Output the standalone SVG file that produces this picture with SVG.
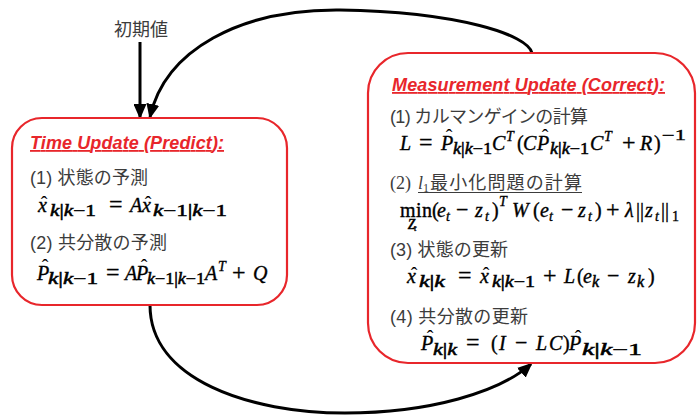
<svg xmlns="http://www.w3.org/2000/svg" width="699" height="417" viewBox="0 0 699 417">
<style>
.box{fill:#fff;stroke:#e8262b;stroke-width:2.2}
.ttl{font-family:"Liberation Sans",Arial,sans-serif;font-size:18px;font-weight:bold;font-style:italic;fill:#e8262b;text-decoration:underline}
.lbl{font-family:"Liberation Sans","Noto Sans CJK JP",sans-serif;font-size:18px;fill:#3c3c3c}
.m{font-family:"Liberation Serif","DejaVu Serif",serif;font-size:20px;font-style:italic;fill:#000;stroke:#000;stroke-width:0.35}
.u{font-style:normal}
.s{font-size:16px;stroke-width:0.5}
.t{font-size:14px}
.hat{font-family:"Liberation Serif",serif;font-size:20px;fill:#000;text-anchor:middle}
.con{fill:none;stroke:#000;stroke-width:3}
</style>
<defs>
<marker id="ah" markerUnits="userSpaceOnUse" markerWidth="15" markerHeight="13" refX="13" refY="6.5" orient="auto">
<path d="M0,0 L15,6.5 L0,13 z" fill="#000"/>
</marker>
</defs>
<rect width="699" height="417" fill="#fff"/>

<g id="connectors">
<path class="con" d="M140,42 L140,117" marker-end="url(#ah)"/>
<path class="con" d="M532,53 C528,35 460,12 340,10 C240,9 165,50 150,117" marker-end="url(#ah)"/>
<path class="con" d="M150,305 C150,380 250,413 345,413 C430,413 500,392 531,364" marker-end="url(#ah)"/>
</g>

<g id="init-value">
<text class="lbl" x="114" y="36" font-size="17" textLength="54">初期値</text>
</g>

<g id="time-update">
<rect class="box" x="12" y="118" width="275" height="187" rx="30"/>
<text class="ttl" x="30" y="149" textLength="194">Time Update (Predict):</text>
<text class="lbl" x="30" y="184" textLength="118">(1) 状態の予測</text>
<text class="m" y="212" font-size="19"><tspan x="38">x</tspan><tspan x="50" y="216" class="s" textLength="46" lengthAdjust="spacingAndGlyphs">k<tspan class="u">|</tspan>k<tspan class="u">−1</tspan></tspan><tspan x="109" y="212" class="u" font-size="24">=</tspan><tspan x="130">A</tspan><tspan x="142">x</tspan><tspan x="153" y="216" class="s" textLength="74" lengthAdjust="spacingAndGlyphs">k<tspan class="u">−1|</tspan>k<tspan class="u">−1</tspan></tspan></text>
<text class="hat" x="44" y="211">ˆ</text>
<text class="hat" x="148" y="211">ˆ</text>
<text class="lbl" x="30" y="249" textLength="137">(2) 共分散の予測</text>
<text class="m" y="280"><tspan x="37">P</tspan><tspan x="48" y="284" class="s" textLength="50" lengthAdjust="spacingAndGlyphs">k<tspan class="u">|</tspan>k<tspan class="u">−1</tspan></tspan><tspan x="106" y="280" class="u" font-size="24">=</tspan><tspan x="125">A</tspan><tspan x="136">P</tspan><tspan x="147" y="284" class="s" textLength="58" lengthAdjust="spacingAndGlyphs">k<tspan class="u">−1|</tspan>k<tspan class="u">−1</tspan></tspan><tspan x="205" y="280">A</tspan><tspan x="218" y="271" class="t">T</tspan><tspan x="232" y="280" class="u" font-size="24">+</tspan><tspan x="253">Q</tspan></text>
<text class="hat" x="45" y="274">ˆ</text>
<text class="hat" x="144" y="274">ˆ</text>
</g>

<g id="measurement-update">
<rect class="box" x="368" y="53" width="327" height="310" rx="40"/>
<text class="ttl" x="392" y="91" textLength="273">Measurement Update (Correct):</text>
<text class="lbl" x="390" y="123" textLength="198">(1) カルマンゲインの計算</text>
<text class="m" y="150"><tspan x="400">L</tspan><tspan x="419" class="u" font-size="24">=</tspan><tspan x="441">P</tspan><tspan x="453" y="154" class="s" textLength="39" lengthAdjust="spacingAndGlyphs">k<tspan class="u">|</tspan>k<tspan class="u">−1</tspan></tspan><tspan x="492" y="150">C</tspan><tspan x="506" y="141" class="t">T</tspan><tspan x="517" y="150" class="u">(</tspan><tspan x="523">C</tspan><tspan x="537">P</tspan><tspan x="550" y="154" class="s" textLength="39" lengthAdjust="spacingAndGlyphs">k<tspan class="u">|</tspan>k<tspan class="u">−1</tspan></tspan><tspan x="590" y="150">C</tspan><tspan x="604" y="141" class="t">T</tspan><tspan x="622" y="150" class="u" font-size="24">+</tspan><tspan x="640">R</tspan><tspan x="654" class="u">)</tspan><tspan x="662" y="140" class="t u" textLength="24" lengthAdjust="spacingAndGlyphs">−1</tspan></text>
<text class="hat" x="449" y="144">ˆ</text>
<text class="hat" x="545" y="144">ˆ</text>

<text class="lbl" y="189"><tspan x="390" font-family="Liberation Serif,serif">(2) </tspan><tspan x="418" font-family="Liberation Serif,serif" font-style="italic">l</tspan><tspan x="423" y="192" font-family="Liberation Serif,serif" font-size="12">1</tspan><tspan x="430" y="189" textLength="152">最小化問題の計算</tspan></text>
<line x1="418" y1="192.5" x2="582" y2="192.5" stroke="#3c3c3c" stroke-width="1.2"/>

<text class="m" y="217"><tspan x="400" class="u" textLength="32">min</tspan><tspan x="432" class="u">(</tspan><tspan x="437">e</tspan><tspan x="446" y="221" class="t">t</tspan><tspan x="456" y="217" class="u" font-size="22">−</tspan><tspan x="475">z</tspan><tspan x="485" y="221" class="t">t</tspan><tspan x="492" y="217" class="u">)</tspan><tspan x="499" y="206" class="t">T</tspan><tspan x="512" y="217">W</tspan><tspan x="533" class="u">(</tspan><tspan x="540">e</tspan><tspan x="549" y="221" class="t">t</tspan><tspan x="561" y="217" class="u" font-size="22">−</tspan><tspan x="578">z</tspan><tspan x="588" y="221" class="t">t</tspan><tspan x="595" y="217" class="u">)</tspan><tspan x="606" class="u" font-size="24">+</tspan><tspan x="625">λ</tspan><tspan x="636" class="u">||</tspan><tspan x="645">z</tspan><tspan x="655" y="221" class="t">t</tspan><tspan x="661" y="217" class="u">||</tspan><tspan x="672" y="221" class="t u">1</tspan></text>
<text class="m" y="229" font-size="12"><tspan x="408">z</tspan><tspan x="414" y="231" font-size="9">t</tspan></text>

<text class="lbl" x="390" y="256" textLength="118">(3) 状態の更新</text>
<text class="m" y="283"><tspan x="407">x</tspan><tspan x="419" y="287" class="s" textLength="26" lengthAdjust="spacingAndGlyphs">k<tspan class="u">|</tspan>k</tspan><tspan x="458" y="283" class="u" font-size="24">=</tspan><tspan x="480">x</tspan><tspan x="492" y="287" class="s" textLength="43" lengthAdjust="spacingAndGlyphs">k<tspan class="u">|</tspan>k<tspan class="u">−1</tspan></tspan><tspan x="543" y="283" class="u" font-size="24">+</tspan><tspan x="564">L</tspan><tspan x="577" class="u">(</tspan><tspan x="583">e</tspan><tspan x="592" y="287" class="s">k</tspan><tspan x="607" y="283" class="u" font-size="22">−</tspan><tspan x="628">z</tspan><tspan x="637" y="287" class="s">k</tspan><tspan x="648" y="283" class="u">)</tspan></text>
<text class="hat" x="414" y="282">ˆ</text>
<text class="hat" x="486" y="282">ˆ</text>

<text class="lbl" x="390" y="323" textLength="138">(4) 共分散の更新</text>
<text class="m" y="350"><tspan x="421">P</tspan><tspan x="433" y="355" class="s" textLength="24" lengthAdjust="spacingAndGlyphs">k<tspan class="u">|</tspan>k</tspan><tspan x="466" y="350" class="u" font-size="24">=</tspan><tspan x="491" class="u">(</tspan><tspan x="499">I</tspan><tspan x="515" class="u" font-size="22">−</tspan><tspan x="536">L</tspan><tspan x="549">C</tspan><tspan x="563" class="u">)</tspan><tspan x="569">P</tspan><tspan x="582" y="355" class="s" textLength="60" lengthAdjust="spacingAndGlyphs">k<tspan class="u">|</tspan>k<tspan class="u">−1</tspan></tspan></text>
<text class="hat" x="430" y="345">ˆ</text>
<text class="hat" x="578" y="345">ˆ</text>
</g>
</svg>
